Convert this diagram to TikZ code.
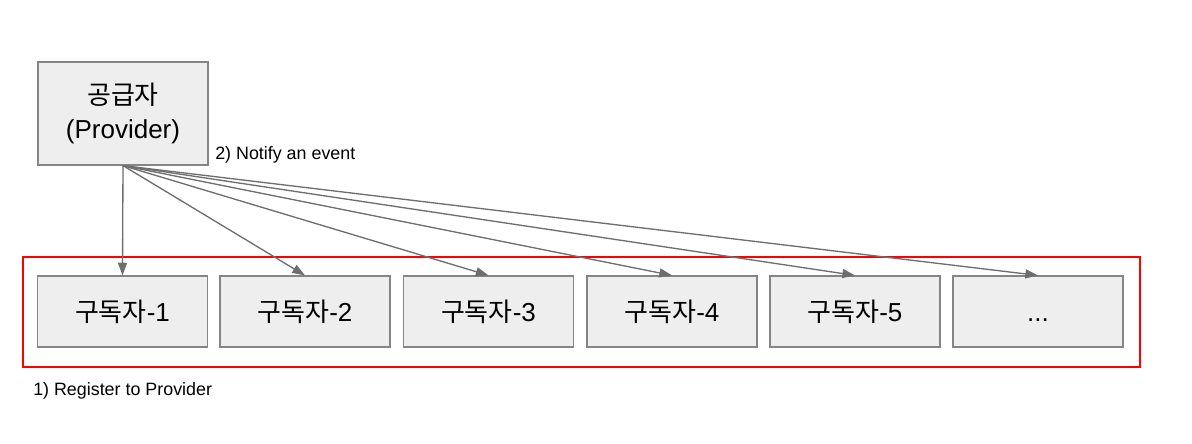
\documentclass[tikz,border=0pt]{standalone}
\usepackage{fontspec}
\setmainfont{Liberation Sans}
\newfontfamily\kr{Noto Sans CJK KR}
\usetikzlibrary{arrows.meta}
\definecolor{boxfill}{HTML}{EEEEEE}
\definecolor{boxline}{HTML}{858585}
\definecolor{arrowgray}{HTML}{6E6E6E}
\tikzset{
  pub box/.style={
    rectangle,draw=boxline,fill=boxfill,line width=0.9pt,
    minimum width=127.5pt,minimum height=77.25pt,inner sep=0pt,
    align=center,font=\fontsize{19.5}{25}\selectfont
  },
  sub box/.style={
    rectangle,draw=boxline,fill=boxfill,line width=0.9pt,
    minimum width=127.5pt,minimum height=53.25pt,inner sep=0pt,
    font=\fontsize{19.5}{23}\selectfont
  },
  notify edge/.style={arrowgray,line width=1pt,
    -{Triangle[length=9.5pt,width=6.8pt]}},
  sub group/.style={rectangle,draw=red,line width=0.8pt,
    minimum width=837.75pt,minimum height=82.5pt,inner sep=0pt},
  note/.style={anchor=west,inner sep=0pt,font=\fontsize{13.4}{16}\selectfont}
}

\begin{document}
\begin{tikzpicture}[x=0.75pt,y=-0.75pt]
  \useasboundingbox (0,0) rectangle (1192,443);
  \node[sub group] (grp) at (581.5,312) {};
  \node[pub box] (prov) at (123,113.5) {{\kr 공급자}\\(Provider)};
  \node[sub box] (s1) at (122.5,311.5) {{\kr 구독자}-1};
  \node[sub box] (s2) at (305,311.5) {{\kr 구독자}-2};
  \node[sub box] (s3) at (488.5,311.5) {{\kr 구독자}-3};
  \node[sub box] (s4) at (672,311.5) {{\kr 구독자}-4};
  \node[sub box] (s5) at (855,311.5) {{\kr 구독자}-5};
  \node[sub box] (s6) at (1038,311.5) {\vphantom{\kr 구독자}...};
  \node[note] (notify) at (215,155) {2) Notify an event};
  \node[note] (register) at (33,391) {1) Register to Provider};
  \draw[notify edge] (prov.south)--(s1.north);
  \draw[notify edge] (prov.south)--(s2.north);
  \draw[notify edge] (prov.south)--(s3.north);
  \draw[notify edge] (prov.south)--(s4.north);
  \draw[notify edge] (prov.south)--(s5.north);
  \draw[notify edge] (prov.south)--(s6.north);
\end{tikzpicture}
\end{document}
